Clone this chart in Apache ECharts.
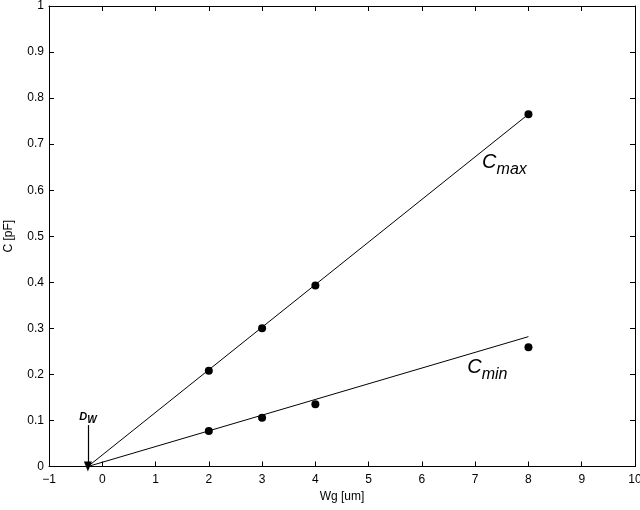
<!DOCTYPE html>
<html>
<head>
<meta charset="utf-8">
<script src="https://cdn.jsdelivr.net/npm/echarts@6/dist/echarts.min.js"></script>
<style>
  html, body { margin: 0; padding: 0; background: #fff; }
  #chart { width: 640px; height: 510px; }
</style>
</head>
<body>
<div id="chart"></div>
<script>
// Gate width samples and measured capacitances
const wg = [2, 3, 4, 8];
const cMax = [0.208, 0.300, 0.393, 0.765];
const cMin = [0.077, 0.106, 0.135, 0.259];

// Linear fits, both extrapolated back to the width offset D_w
const dW = -0.27;
const fitEndX = 8;
const cMaxFitEnd = 0.765;
const cMinFitEnd = 0.282;
const dWArrowTop = 0.09;

// Label anchors in data space (left edge, text baseline)
const cMaxLabelAt = [7.13, 0.648];
const cMinLabelAt = [6.85, 0.203];

const FONT = "'Liberation Sans', Arial, Helvetica, sans-serif";
const INK = '#000';

const chart = echarts.init(document.getElementById('chart'), null, { renderer: 'canvas' });

function fmtNum(v) {
  return String(v).replace('-', '\u2212');
}

function frameAxis(extra) {
  return Object.assign({
    axisLine: { show: true, onZero: false, lineStyle: { color: INK, width: 1 } },
    axisTick: { show: true, inside: true, length: 5, lineStyle: { color: INK, width: 1 } },
    splitLine: { show: false }
  }, extra);
}

chart.setOption({
  animation: false,
  backgroundColor: '#fff',
  grid: { left: 49, right: 5, top: 6, bottom: 43.5, containLabel: false, outerBoundsMode: 'none' },
  xAxis: [
    frameAxis({
      type: 'value', min: -1, max: 10, interval: 1, position: 'bottom',
      name: 'Wg [um]', nameLocation: 'middle', nameGap: 19,
      nameTextStyle: { color: INK, fontSize: 12, fontFamily: FONT },
      axisLabel: { color: INK, fontSize: 12, fontFamily: FONT, margin: 7, formatter: fmtNum }
    }),
    frameAxis({
      type: 'value', min: -1, max: 10, interval: 1, position: 'top',
      axisLabel: { show: false }
    })
  ],
  yAxis: [
    frameAxis({
      type: 'value', min: 0, max: 1, interval: 0.1, position: 'left',
      name: 'C [pF]', nameLocation: 'middle', nameGap: 34,
      nameTextStyle: { color: INK, fontSize: 12, fontFamily: FONT },
      axisLabel: { color: INK, fontSize: 12, fontFamily: FONT, margin: 5, formatter: fmtNum }
    }),
    frameAxis({
      type: 'value', min: 0, max: 1, interval: 0.1, position: 'right',
      axisLabel: { show: false }
    })
  ],
  series: [
    {
      name: 'Cmax fit', type: 'line', xAxisIndex: 0, yAxisIndex: 0,
      data: [[dW, 0], [fitEndX, cMaxFitEnd]],
      showSymbol: false, symbol: 'none',
      lineStyle: { color: INK, width: 1 }, z: 2,
      markLine: {
        silent: true,
        symbol: ['none', 'triangle'],
        symbolSize: [8, 10],
        lineStyle: { color: INK, width: 1.2, type: 'solid' },
        itemStyle: { color: INK },
        label: { show: false },
        data: [[{ coord: [dW, dWArrowTop] }, { coord: [dW, 0] }]]
      }
    },
    {
      name: 'Cmin fit', type: 'line', xAxisIndex: 0, yAxisIndex: 0,
      data: [[dW, 0], [fitEndX, cMinFitEnd]],
      showSymbol: false, symbol: 'none',
      lineStyle: { color: INK, width: 1 }, z: 2
    },
    {
      name: 'Cmax', type: 'scatter', xAxisIndex: 0, yAxisIndex: 0,
      data: wg.map((x, i) => [x, cMax[i]]),
      symbol: 'circle', symbolSize: 8,
      itemStyle: { color: INK, opacity: 1 }, z: 3
    },
    {
      name: 'Cmin', type: 'scatter', xAxisIndex: 0, yAxisIndex: 0,
      data: wg.map((x, i) => [x, cMin[i]]),
      symbol: 'circle', symbolSize: 8,
      itemStyle: { color: INK, opacity: 1 }, z: 3
    }
  ]
});

// Subscripted annotations (main letter plus lowered subscript)
const measureCtx = document.createElement('canvas').getContext('2d');
function textWidth(str, font) {
  measureCtx.font = font;
  return measureCtx.measureText(str).width;
}

function subText(left, baseline, main, sub, mainSize, subSize, weight, drop) {
  const fMain = 'italic ' + weight + ' ' + mainSize + 'px ' + FONT;
  const fSub = 'italic ' + weight + ' ' + subSize + 'px ' + FONT;
  const wMain = textWidth(main, fMain);
  return [
    {
      type: 'text', x: left, y: baseline + mainSize * 0.21, z: 10,
      style: { text: main, fill: INK, align: 'left', verticalAlign: 'bottom', font: fMain }
    },
    {
      type: 'text', x: left + wMain, y: baseline + drop + subSize * 0.21, z: 10,
      style: { text: sub, fill: INK, align: 'left', verticalAlign: 'bottom', font: fSub }
    }
  ];
}

function dataLabel(at, main, sub, mainSize, subSize, weight, drop) {
  const p = chart.convertToPixel({ xAxisIndex: 0, yAxisIndex: 0 }, at);
  return subText(p[0], p[1], main, sub, mainSize, subSize, weight, drop);
}

// D_w sits centred just above the arrow tail
const tail = chart.convertToPixel({ xAxisIndex: 0, yAxisIndex: 0 }, [dW, dWArrowTop]);
const dwW = textWidth('D', 'italic bold 11px ' + FONT) + textWidth('W', 'italic bold 10px ' + FONT);
const dwLabel = subText(tail[0] - dwW / 2, tail[1] - 5, 'D', 'W', 11, 10, 'bold', 3.5);

chart.setOption({
  graphic: [].concat(
    dataLabel(cMaxLabelAt, 'C', 'max', 20, 16, 'normal', 6),
    dataLabel(cMinLabelAt, 'C', 'min', 20, 16, 'normal', 6),
    dwLabel
  )
});
</script>
</body>
</html>
